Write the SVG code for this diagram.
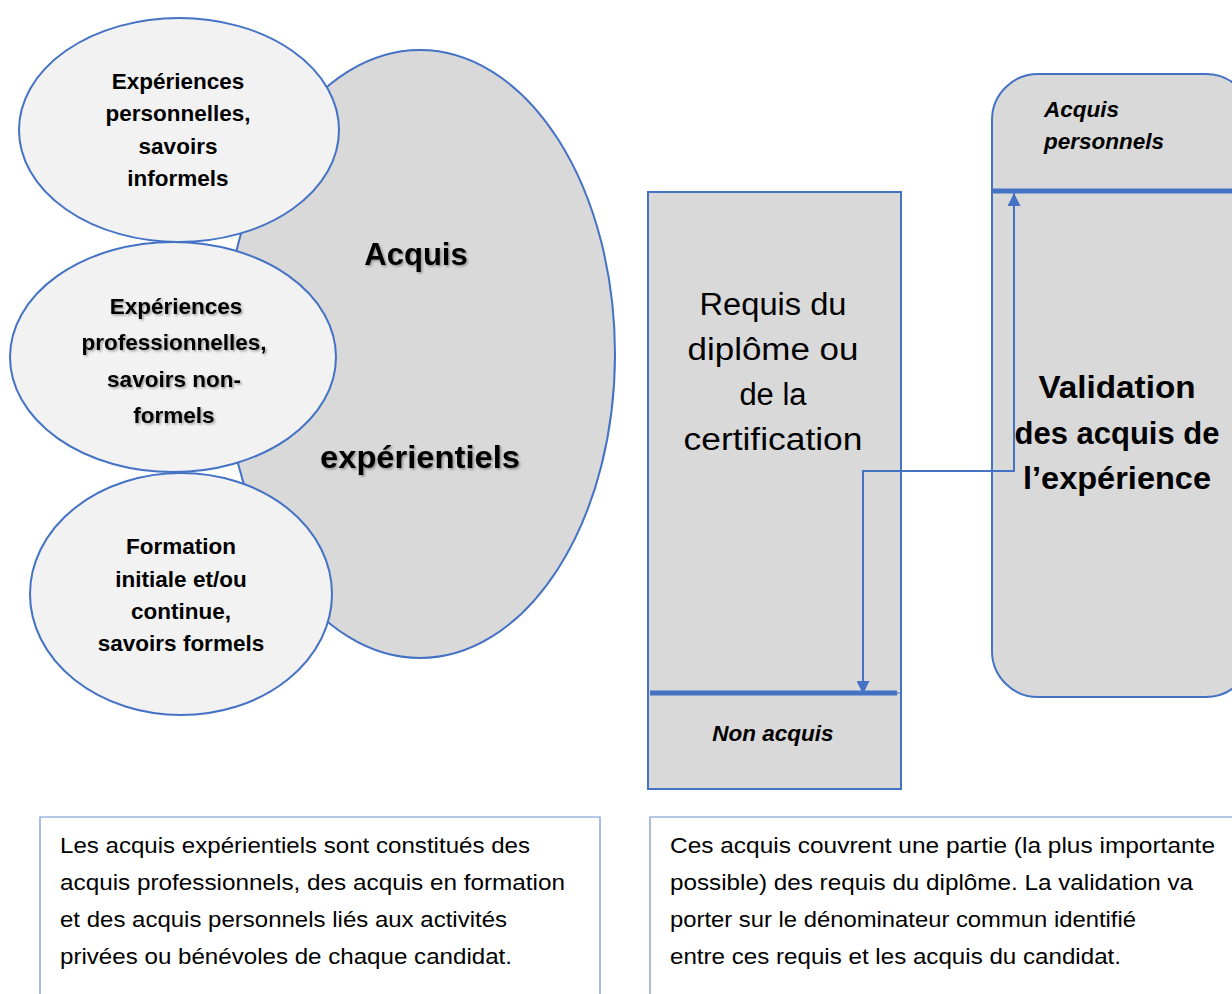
<svg xmlns="http://www.w3.org/2000/svg" width="1232" height="994" viewBox="0 0 1232 994">
<defs>
<style>
.ell{fill:#f2f2f2;stroke:#4472c4;stroke-width:2}
.big{fill:#d9d9d9;stroke:#4472c4;stroke-width:2}
.t{font-family:"Liberation Sans",Arial,sans-serif;fill:#000}
.cb{font-size:22.5px;font-weight:bold;text-anchor:middle}
.sh{filter:url(#shadow)}
.para{font-size:22px}
.req{font-size:31px;text-anchor:middle}
.val{font-size:32px;font-weight:bold;text-anchor:middle}
.bi{font-size:22.5px;font-weight:bold;font-style:italic}
.conn{fill:none;stroke:#4472c4;stroke-width:2}
</style>
<filter id="shadow" x="-10%" y="-30%" width="120%" height="160%">
<feDropShadow dx="1.5" dy="1.5" stdDeviation="1" flood-color="#000" flood-opacity="0.35"/>
</filter>
<marker id="arr" viewBox="0 0 12 12" refX="12" refY="6" markerWidth="13" markerHeight="13" orient="auto-start-reverse" markerUnits="userSpaceOnUse">
<path d="M0,0 L12,6 L0,12 z" fill="#4472c4"/>
</marker>
</defs>
<rect width="1232" height="994" fill="#fff"/>

<g id="acquis-experientiels">
<ellipse class="big" cx="420" cy="354" rx="195" ry="304"/>
<text class="t sh" x="416" y="265" font-size="31" font-weight="bold" text-anchor="middle">Acquis</text>
<text class="t sh" x="420" y="468" font-size="32" font-weight="bold" text-anchor="middle" textLength="200" lengthAdjust="spacingAndGlyphs">expérientiels</text>
</g>

<g id="experiences-personnelles">
<ellipse class="ell" cx="179" cy="130" rx="160" ry="112"/>
<text class="t cb" x="178" y="89">Expériences</text>
<text class="t cb" x="178" y="121">personnelles,</text>
<text class="t cb" x="178" y="154">savoirs</text>
<text class="t cb" x="178" y="186">informels</text>
</g>

<g id="experiences-professionnelles">
<ellipse class="ell" cx="173" cy="357" rx="163" ry="115"/>
<text class="t cb sh" x="176" y="314">Expériences</text>
<text class="t cb sh" x="174" y="350">professionnelles,</text>
<text class="t cb sh" x="174" y="387">savoirs non-</text>
<text class="t cb sh" x="174" y="423">formels</text>
</g>

<g id="formation">
<ellipse class="ell" cx="181" cy="594" rx="151" ry="121"/>
<text class="t cb" x="181" y="554">Formation</text>
<text class="t cb" x="181" y="587">initiale et/ou</text>
<text class="t cb" x="181" y="619">continue,</text>
<text class="t cb" x="181" y="651">savoirs formels</text>
</g>

<g id="requis">
<rect x="648" y="192" width="253" height="597" fill="#d9d9d9" stroke="#4472c4" stroke-width="2"/>
<text class="t req" x="773" y="315" textLength="147" lengthAdjust="spacingAndGlyphs">Requis du</text>
<text class="t req" x="773" y="360" textLength="171" lengthAdjust="spacingAndGlyphs">diplôme ou</text>
<text class="t req" x="773" y="405">de la</text>
<text class="t req" x="773" y="450" textLength="179" lengthAdjust="spacingAndGlyphs">certification</text>
<line x1="650" y1="693" x2="897" y2="693" stroke="#4472c4" stroke-width="5"/>
<line x1="897" y1="693" x2="900" y2="693" stroke="#4472c4" stroke-width="1"/>
<text class="t bi" text-anchor="middle" x="773" y="741">Non acquis</text>
</g>

<g id="validation">
<rect x="992" y="74" width="260" height="623" rx="46" ry="46" fill="#d9d9d9" stroke="#4472c4" stroke-width="2"/>
<line x1="993" y1="191" x2="1232" y2="191" stroke="#4472c4" stroke-width="5"/>
<text class="t bi" x="1044" y="117">Acquis</text>
<text class="t bi" x="1044" y="149">personnels</text>
<text class="t val" x="1117" y="398" textLength="157" lengthAdjust="spacingAndGlyphs">Validation</text>
<text class="t val" x="1117" y="444" textLength="205" lengthAdjust="spacingAndGlyphs">des acquis de</text>
<text class="t val" x="1117" y="489" textLength="188" lengthAdjust="spacingAndGlyphs">l’expérience</text>
</g>

<g id="connectors">
<path class="conn" d="M863,694 L863,471 L1014,471 L1014,193" marker-start="url(#arr)" marker-end="url(#arr)"/>
</g>

<g id="note-left">
<path d="M40,994 L40,817 L600,817 L600,994" fill="none" stroke="#6f8fd0" stroke-width="1.2"/>
<text class="t para" x="60" y="853" textLength="470" lengthAdjust="spacingAndGlyphs">Les acquis expérientiels sont constitués des</text>
<text class="t para" x="60" y="890" textLength="505" lengthAdjust="spacingAndGlyphs">acquis professionnels, des acquis en formation</text>
<text class="t para" x="60" y="927" textLength="447" lengthAdjust="spacingAndGlyphs">et des acquis personnels liés aux activités</text>
<text class="t para" x="60" y="964" textLength="452" lengthAdjust="spacingAndGlyphs">privées ou bénévoles de chaque candidat.</text>
</g>

<g id="note-right">
<path d="M650,994 L650,817 L1232,817" fill="none" stroke="#6f8fd0" stroke-width="1.2"/>
<text class="t para" x="670" y="853" textLength="545" lengthAdjust="spacingAndGlyphs">Ces acquis couvrent une partie (la plus importante</text>
<text class="t para" x="670" y="890" textLength="523" lengthAdjust="spacingAndGlyphs">possible) des requis du diplôme. La validation va</text>
<text class="t para" x="670" y="927" textLength="466" lengthAdjust="spacingAndGlyphs">porter sur le dénominateur commun identifié</text>
<text class="t para" x="670" y="964" textLength="451" lengthAdjust="spacingAndGlyphs">entre ces requis et les acquis du candidat.</text>
</g>
</svg>
